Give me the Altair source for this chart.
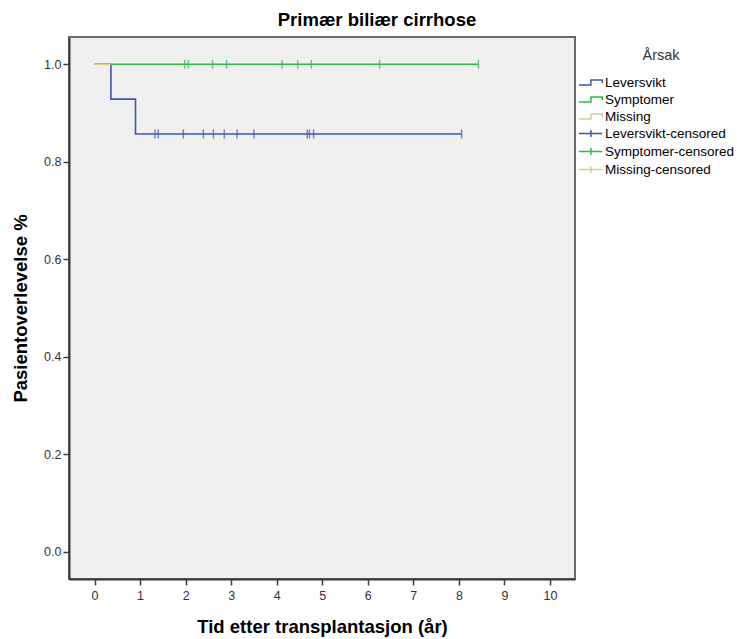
import altair as alt
import pandas as pd

# ---- data ----
lev_t = [0.0, 0.36, 0.90, 8.06]
lev_s = [1.0, 0.9286, 0.8571, 0.8571]
sym_t = [0.0, 8.43]
sym_s = [1.0, 1.0]
mis_t = [0.0, 0.36]
mis_s = [1.0, 1.0]

lev_cens_t = [1.33, 1.40, 1.95, 2.39, 2.61, 2.85, 3.13, 3.50, 4.67, 4.72, 4.81, 8.06]
lev_cens_s = 0.8571
sym_cens_t = [1.98, 2.06, 2.59, 2.90, 4.12, 4.46, 4.76, 6.26, 8.43]
sym_cens_s = 1.0

legend_names = ["Leversvikt", "Symptomer", "Missing",
                "Leversvikt-censored", "Symptomer-censored", "Missing-censored"]

BLUE = "#3E58AC"
GREEN = "#2EB848"
TAN = "#D4CE97"
legend_colors = [BLUE, GREEN, TAN, BLUE, GREEN, TAN]
STEP = "M-2.4,0.4H-0.55V-0.4H1.2V0.1"
CROSS = "M-2.4,0H1.2M-0.55,-0.55V0.55"
legend_shapes = [STEP, STEP, STEP, CROSS, CROSS, CROSS]

XDOM = [-0.56, 10.55]
YDOM = [-0.056, 1.056]

lev_df = pd.DataFrame({"t": lev_t, "s": lev_s})
sym_df = pd.DataFrame({"t": sym_t, "s": sym_s})
mis_df = pd.DataFrame({"t": mis_t, "s": mis_s})
lev_c_df = pd.DataFrame({"t": lev_cens_t, "s": [lev_cens_s] * len(lev_cens_t)})
sym_c_df = pd.DataFrame({"t": sym_cens_t, "s": [sym_cens_s] * len(sym_cens_t)})
leg_df = pd.DataFrame({"name": legend_names, "t": [0.0] * 6, "s": [1.0] * 6})

FONT = "Liberation Sans"

x_enc = alt.X("t:Q", scale=alt.Scale(domain=XDOM, nice=False, zero=False),
              axis=alt.Axis(values=list(range(0, 11)), format="d",
                            title="Tid etter transplantasjon (år)"))
y_enc = alt.Y("s:Q", scale=alt.Scale(domain=YDOM, nice=False, zero=False),
              axis=alt.Axis(values=[0.0, 0.2, 0.4, 0.6, 0.8, 1.0], format=".1f",
                            title="Pasientoverlevelse %"))


def step_line(df, color):
    return alt.Chart(df).mark_line(interpolate="step-after", strokeWidth=1.6,
                                   color=color, clip=True).encode(x=x_enc, y=y_enc)


def cens(df, color):
    return alt.Chart(df).mark_tick(orient="vertical", size=9, thickness=1.5,
                                   color=color).encode(x=x_enc, y=y_enc)


legend_layer = alt.Chart(leg_df).mark_point(opacity=0, filled=False).encode(
    x=x_enc, y=y_enc,
    color=alt.Color("name:N", scale=alt.Scale(domain=legend_names, range=legend_colors),
                    legend=alt.Legend(title="Årsak", orient="none", legendX=518, legendY=11.5)),
    shape=alt.Shape("name:N", scale=alt.Scale(domain=legend_names, range=legend_shapes),
                    legend=alt.Legend(title="Årsak", orient="none", legendX=518, legendY=11.5)),
)

chart = alt.layer(
    step_line(lev_df, BLUE),
    step_line(sym_df, GREEN),
    cens(lev_c_df, BLUE),
    cens(sym_c_df, GREEN),
    step_line(mis_df, TAN),
    legend_layer,
).properties(
    width=506, height=542,
    title=alt.TitleParams("Primær biliær cirrhose", font=FONT, fontSize=18.5,
                          fontWeight="bold", color="#000000", offset=8, anchor="middle",
                          dx=55),
    autosize=alt.AutoSizeParams(type="none"),
    padding={"left": 69, "top": 37, "right": 162, "bottom": 60},
).configure(
    background="#FFFFFF",
).configure_view(
    fill="#F0F0F0", stroke="#6A6A6A", strokeWidth=2,
).configure_axis(
    grid=False, domainColor="#3A3A3A", domainWidth=2, tickColor="#3A3A3A",
    tickWidth=1.5, tickSize=6, labelFont=FONT, labelFontSize=12.5, labelColor="#333333",
    titleFont=FONT, titleFontSize=18.5, titleFontWeight="bold", titleColor="#000000",
).configure_axisY(
    labelPadding=2, titlePadding=13,
).configure_axisX(
    labelPadding=4, titlePadding=16,
).configure_legend(
    padding=0, titleFont=FONT, titleFontSize=14.5, titleFontWeight="normal",
    titleColor="#333333", titleAnchor="middle", titlePadding=12,
    labelFont=FONT, labelFontSize=13.5, labelColor="#000000", labelOffset=3,
    symbolSize=169, symbolStrokeWidth=1.5, symbolOpacity=1,
    symbolFillColor="transparent", rowPadding=3,
)

chart.save("out.html", embed_options={"renderer": "svg", "actions": False})
